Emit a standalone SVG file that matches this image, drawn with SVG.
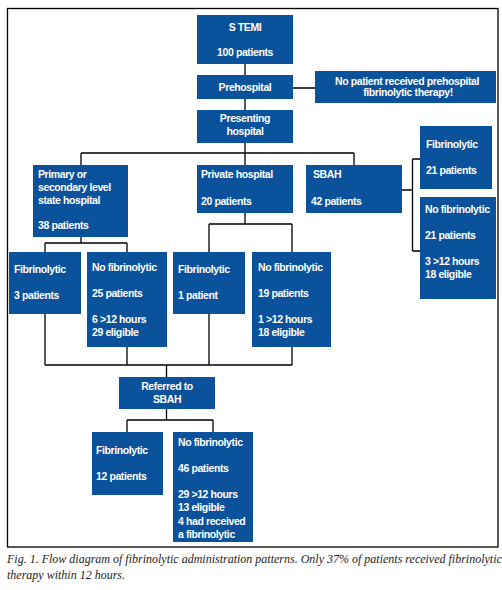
<svg xmlns="http://www.w3.org/2000/svg" width="502" height="590" viewBox="0 0 502 590">
<style>
.b{fill:#0b529c}
.t{fill:#fff;font-family:"Liberation Sans",Arial,sans-serif;font-size:10.5px;font-weight:bold;letter-spacing:-0.4px}
.m{text-anchor:middle}
.c{fill:none;stroke:#000;stroke-width:1.3}
.cap{font-family:"Liberation Serif","Times New Roman",serif;font-style:italic;font-size:12px;fill:#222}
</style>
<rect x="0" y="0" width="502" height="590" fill="#fff"/>
<rect class="c" x="7.5" y="8.5" width="490.5" height="538.5"/>
<g id="connectors">
<path class="c" d="M245 64V75M245 99V110M293 88H315M245 143V153M81 153H354M81 153V165M245 153V165M354 153V165"/>
<path class="c" d="M402 190H412.5M412.5 159V251M412.5 159H420M412.5 251H420"/>
<path class="c" d="M81 237V243M45 243H127M45 243V252M127 243V252"/>
<path class="c" d="M245 213V224M209 224H292M209 224V252M292 224V252"/>
<path class="c" d="M45 314V365M127 347V365M209 314V365M292 347V365M45 365H292M166.5 365V377"/>
<path class="c" d="M166.5 409V420M127 420H213M127 420V432M213 420V432"/>
</g>
<g id="stemi"><rect class="b" x="197" y="15" width="96" height="49"/><text class="t m" x="245" y="30.5">S TEMI</text><text class="t m" x="245" y="56">100 patients</text></g>
<g id="prehospital"><rect class="b" x="197" y="75" width="96" height="24"/><text class="t m" x="245" y="90.5">Prehospital</text></g>
<g id="noprehospital"><rect class="b" x="315" y="71" width="181" height="32"/><text class="t m" x="407" y="84.5">No patient received prehospital</text><text class="t m" x="408" y="96">fibrinolytic therapy!</text></g>
<g id="presenting"><rect class="b" x="197" y="110" width="96" height="33"/><text class="t m" x="245" y="122">Presenting</text><text class="t m" x="245" y="135">hospital</text></g>
<g id="primary"><rect class="b" x="33" y="165" width="95" height="72"/><text class="t" x="38" y="178">Primary or</text><text class="t" x="38" y="191">secondary level</text><text class="t" x="38" y="204">state hospital</text><text class="t" x="38" y="229">38 patients</text></g>
<g id="private"><rect class="b" x="197" y="165" width="96" height="48"/><text class="t" x="201" y="178">Private hospital</text><text class="t" x="201" y="205">20 patients</text></g>
<g id="sbah"><rect class="b" x="306" y="165" width="96" height="48"/><text class="t" x="313" y="178">SBAH</text><text class="t" x="311" y="205">42 patients</text></g>
<g id="sbah-fib"><rect class="b" x="420" y="126" width="72" height="63"/><text class="t" x="426" y="148">Fibrinolytic</text><text class="t" x="426" y="174">21 patients</text></g>
<g id="sbah-nofib"><rect class="b" x="420" y="197" width="76" height="102"/><text class="t" x="425" y="213">No fibrinolytic</text><text class="t" x="425" y="239">21 patients</text><text class="t" x="425" y="265">3 &gt;12 hours</text><text class="t" x="425" y="278">18 eligible</text></g>
<g id="primary-fib"><rect class="b" x="9" y="252" width="72" height="62"/><text class="t" x="14" y="273">Fibrinolytic</text><text class="t" x="14" y="299">3 patients</text></g>
<g id="primary-nofib"><rect class="b" x="87" y="252" width="80" height="95"/><text class="t" x="92" y="271">No fibrinolytic</text><text class="t" x="92" y="297">25 patients</text><text class="t" x="92" y="323">6 &gt;12 hours</text><text class="t" x="92" y="336">29 eligible</text></g>
<g id="private-fib"><rect class="b" x="173" y="252" width="72" height="62"/><text class="t" x="178" y="273">Fibrinolytic</text><text class="t" x="178" y="299">1 patient</text></g>
<g id="private-nofib"><rect class="b" x="252" y="252" width="79" height="95"/><text class="t" x="258" y="271">No fibrinolytic</text><text class="t" x="258" y="297">19 patients</text><text class="t" x="258" y="323">1 &gt;12 hours</text><text class="t" x="258" y="336">18 eligible</text></g>
<g id="referred"><rect class="b" x="119" y="377" width="96" height="32"/><text class="t m" x="167" y="390">Referred to</text><text class="t m" x="167" y="403">SBAH</text></g>
<g id="referred-fib"><rect class="b" x="92" y="432" width="71" height="63"/><text class="t" x="96" y="454">Fibrinolytic</text><text class="t" x="96" y="480">12 patients</text></g>
<g id="referred-nofib"><rect class="b" x="173" y="432" width="80" height="110"/><text class="t" x="178" y="446">No fibrinolytic</text><text class="t" x="178" y="472">46 patients</text><text class="t" x="178" y="498">29 &gt;12 hours</text><text class="t" x="178" y="511">13 eligible</text><text class="t" x="178" y="525">4 had received</text><text class="t" x="178" y="538">a fibrinolytic</text></g>
<g id="caption"><text class="cap" x="7" y="563">Fig. 1. Flow diagram of fibrinolytic administration patterns. Only 37% of patients received fibrinolytic</text><text class="cap" x="7" y="579">therapy within 12 hours.</text></g>
</svg>
